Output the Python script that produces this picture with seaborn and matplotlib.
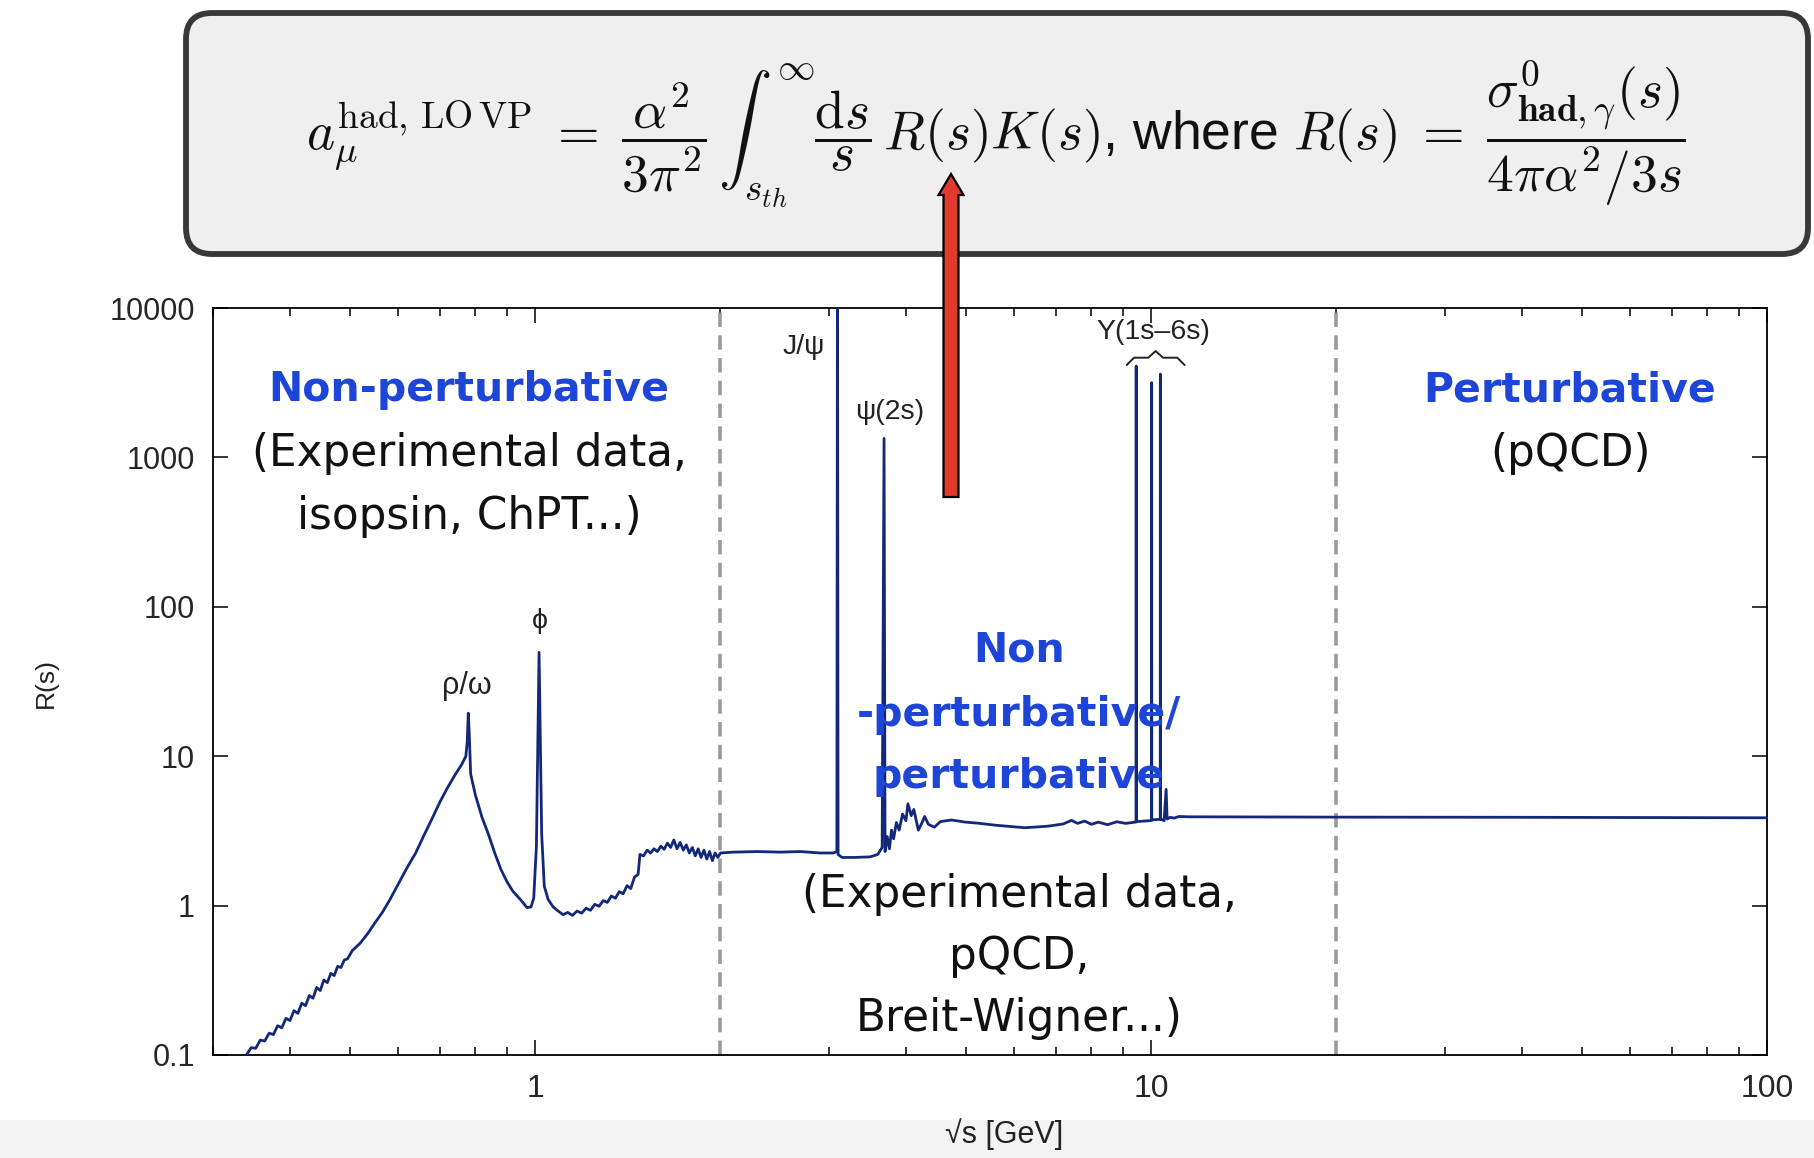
import numpy as np
import pandas as pd
import seaborn as sns
import matplotlib
matplotlib.use("Agg")
import matplotlib.pyplot as plt
from matplotlib.patches import FancyBboxPatch, FancyArrow, Rectangle
from matplotlib.transforms import IdentityTransform
from matplotlib.ticker import FixedLocator, FixedFormatter, LogLocator, NullLocator, NullFormatter

# ---------------------------------------------------------------- data
# centre-of-mass energy sqrt(s) in GeV and the hadronic R-ratio
sqrt_s = [
    0.340, 0.346, 0.352, 0.358, 0.364, 0.370, 0.376, 0.382, 0.388, 0.394,
    0.400, 0.406, 0.412, 0.418, 0.424, 0.430, 0.436, 0.442, 0.448, 0.454,
    0.460, 0.466, 0.472, 0.478, 0.484, 0.490, 0.496,
    0.505, 0.520, 0.535, 0.550, 0.565, 0.580, 0.600, 0.620, 0.640, 0.660,
    0.680, 0.700, 0.720, 0.740, 0.760, 0.772, 0.776, 0.779, 0.782, 0.786,
    0.800, 0.820, 0.840, 0.860, 0.880, 0.900, 0.920, 0.950, 0.970, 0.985,
    0.995, 1.005, 1.015, 1.025, 1.035, 1.050, 1.070, 1.090, 1.110, 1.130,
    1.150, 1.170, 1.190, 1.210, 1.230, 1.250, 1.270, 1.290, 1.310, 1.330,
    1.350, 1.370, 1.390, 1.410, 1.430, 1.450, 1.470, 1.480, 1.500, 1.520,
    1.540, 1.560, 1.580, 1.600, 1.620, 1.640, 1.660, 1.680, 1.700, 1.720,
    1.740, 1.760, 1.780, 1.800, 1.820, 1.840, 1.860, 1.880, 1.900, 1.920,
    1.940, 1.960, 1.980, 2.000, 2.100, 2.300, 2.500, 2.700, 2.900, 3.050,
    3.090, 3.097, 3.104, 3.150, 3.300, 3.500, 3.600, 3.660, 3.686, 3.700,
    3.730, 3.760, 3.790, 3.820, 3.860, 3.900, 3.950, 4.000, 4.030, 4.080,
    4.120, 4.190, 4.250, 4.290, 4.350, 4.450, 4.550, 4.740, 5.000, 5.240,
    5.600, 6.240, 6.800, 7.200, 7.430, 7.600, 7.800, 8.000, 8.210, 8.500,
    8.800, 9.100, 9.420, 9.455, 9.460, 9.465, 9.950, 10.018, 10.023, 10.028,
    10.350, 10.355, 10.360, 10.500, 10.580, 10.620, 10.750, 10.900, 11.100, 11.500,
    15.00, 20.00, 40.00, 70.00, 100.0,
]
R_ratio = [
    0.100, 0.112, 0.111, 0.126, 0.124, 0.140, 0.137, 0.157, 0.152, 0.176,
    0.170, 0.198, 0.190, 0.222, 0.214, 0.250, 0.240, 0.283, 0.270, 0.318,
    0.305, 0.352, 0.340, 0.392, 0.385, 0.432, 0.440,
    0.500, 0.560, 0.650, 0.770, 0.900, 1.080, 1.400, 1.800, 2.250, 2.950,
    3.800, 4.900, 6.100, 7.400, 8.800, 10.00, 12.50, 19.40, 14.00, 7.600,
    5.500, 3.900, 3.000, 2.250, 1.750, 1.450, 1.250, 1.080, 0.970, 0.980,
    1.120, 2.500, 49.60, 3.000, 1.350, 1.100, 0.980, 0.920, 0.870, 0.900,
    0.860, 0.920, 0.890, 0.960, 0.930, 1.020, 0.990, 1.080, 1.050, 1.160,
    1.120, 1.240, 1.200, 1.360, 1.300, 1.550, 1.620, 2.200, 2.150, 2.350,
    2.250, 2.400, 2.300, 2.500, 2.380, 2.620, 2.450, 2.750, 2.400, 2.650,
    2.350, 2.550, 2.250, 2.450, 2.150, 2.400, 2.100, 2.350, 2.050, 2.300,
    2.000, 2.250, 2.100, 2.250, 2.280, 2.300, 2.280, 2.300, 2.250, 2.250,
    2.300, 30000., 2.200, 2.100, 2.100, 2.120, 2.200, 2.450, 1340., 2.300,
    2.900, 2.400, 3.200, 2.800, 3.600, 3.200, 4.100, 3.700, 4.800, 4.000,
    4.400, 3.200, 3.600, 3.950, 3.500, 3.350, 3.650, 3.740, 3.620, 3.560,
    3.450, 3.320, 3.400, 3.520, 3.720, 3.550, 3.680, 3.500, 3.620, 3.480,
    3.640, 3.550, 3.620, 3.620, 4090., 3.650, 3.700, 3.720, 3162., 3.750,
    3.780, 3614., 3.800, 3.700, 6.000, 3.800, 3.900, 3.850, 3.950, 3.930,
    3.920, 3.910, 3.900, 3.880, 3.870,
]

# resonance labels: (text, sqrt_s position, R position)
peak_names = ["\u03c1/\u03c9", "\u03d5", "J/\u03c8", "\u03c8(2s)", "\u03a5(1s\u20136s)"]
peak_x = [0.775, 1.019, 2.73, 3.77, 10.1]
peak_y = [29.6, 80.0, 5500.0, 2014.0, 6900.0]
upsilon_masses = [9.460, 10.023, 10.355]

# region boundaries in sqrt(s) [GeV]
boundaries = [2.0, 20.0]

x_ticks = [1, 10, 100]
x_tick_labels = ["1", "10", "100"]
y_ticks = [0.1, 1, 10, 100, 1000, 10000]
y_tick_labels = ["0.1", "1", "10", "100", "1000", "10000"]

# ---------------------------------------------------------------- style
sns.set_theme(style="ticks")
plt.rcParams["font.family"] = ["Liberation Sans", "DejaVu Sans"]
plt.rcParams["mathtext.fontset"] = "cm"

W, H = 1814, 1158
fig = plt.figure(figsize=(W / 100, H / 100), dpi=100)
fig.patch.set_facecolor("white")

curve_color = "#14287a"
region_blue = "#1d45d8"
narrow = ["Liberation Sans Narrow", "Liberation Sans", "DejaVu Sans"]
region_font = ["DejaVu Sans"]

# ---------------------------------------------------------------- main axes
ax = fig.add_axes([213 / W, 1 - 1055 / H, (1767 - 213) / W, (1055 - 308) / H])
df = pd.DataFrame({"sqrt_s": sqrt_s, "R": R_ratio})
sns.lineplot(data=df, x="sqrt_s", y="R", estimator=None, sort=False,
             color=curve_color, lw=2.0, ax=ax, zorder=5)
ax.set_xscale("log")
ax.set_yscale("log")
ax.set_xlim(0.3, 100)
ax.set_ylim(0.1, 10000)

for b in boundaries:
    ax.axvline(b, color="#9a9a9a", lw=2.6, dashes=(4.0, 2.3), zorder=2)

ax.xaxis.set_major_locator(FixedLocator(x_ticks))
ax.xaxis.set_major_formatter(FixedFormatter(x_tick_labels))
ax.xaxis.set_minor_locator(LogLocator(base=10, subs=np.arange(2, 10)))
ax.xaxis.set_minor_formatter(NullFormatter())
ax.yaxis.set_major_locator(FixedLocator(y_ticks))
ax.yaxis.set_major_formatter(FixedFormatter(y_tick_labels))
ax.yaxis.set_minor_locator(NullLocator())

ax.tick_params(which="both", direction="in", top=True, right=True,
               color="black", width=1.1)
ax.tick_params(which="major", length=11)
ax.tick_params(which="minor", length=6)
ax.tick_params(axis="x", which="major", pad=14, labelsize=23)
ax.tick_params(axis="y", which="major", pad=13, labelsize=22)
for lab in ax.get_xticklabels():
    lab.set_family(narrow)
for s in ax.spines.values():
    s.set_color("black")
    s.set_linewidth(1.3)
ax.set_xlabel("")
ax.set_ylabel("")

# resonance annotations
for name, px, py in zip(peak_names, peak_x, peak_y):
    ax.text(px, py, name, ha="center", va="center",
            fontsize=22 if name.startswith("\u03c1") else 20.5,
            color="#222222", zorder=6)

# brace grouping the Upsilon states
bx0 = np.log10(min(upsilon_masses) * 0.965)
bx1 = np.log10(max(upsilon_masses) * 1.095)
bxc = 0.5 * (bx0 + bx1)
d = 0.012
yb, ym, yt = np.log10(4150), np.log10(4650), np.log10(5150)
brace_lx = [bx0, bx0 + d, bxc - d, bxc, bxc + d, bx1 - d, bx1]
brace_ly = [yb, ym, ym, yt, ym, ym, yb]
ax.plot(10 ** np.array(brace_lx), 10 ** np.array(brace_ly), color="#222222",
        lw=1.4, zorder=6, solid_joinstyle="round")

# region descriptions
def ftext(xp, yp, s, **kw):
    fig.text(xp / W, 1 - yp / H, s, ha="center", va="center", **kw)

bold_kw = dict(fontsize=29.5, fontweight="bold", color=region_blue, family=region_font)
plain_kw = dict(fontsize=31.5, color="#111111", family=region_font)

ftext(469, 390, "Non-perturbative", **bold_kw)
ftext(469, 453, "(Experimental data,", **plain_kw)
ftext(469, 517, "isopsin, ChPT...)", **plain_kw)

ftext(1570, 390, "Perturbative", **bold_kw)
ftext(1570, 453, "(pQCD)", **plain_kw)

ftext(1019, 651, "Non", **bold_kw)
ftext(1019, 715, "-perturbative/", **bold_kw)
ftext(1019, 777, "perturbative", **bold_kw)
ftext(1019, 894, "(Experimental data,", **plain_kw)
ftext(1019, 957, "pQCD,", **plain_kw)
ftext(1019, 1018, "Breit-Wigner...)", **plain_kw)

# axis titles
ftext(46, 683, "R(s)", fontsize=19, rotation=90, color="#222222")
ftext(1004, 1134, "\u221as [GeV]", fontsize=22, color="#222222", family=narrow)

# grey band along the bottom edge
fig.add_artist(Rectangle((0, 0), 1, (H - 1120) / H, transform=fig.transFigure,
                         facecolor="#f3f3f3", edgecolor="none", zorder=-5))

# formula box
box = FancyBboxPatch((186, H - 254), 1622, 241,
                     boxstyle="round,pad=0,rounding_size=26",
                     transform=IdentityTransform(), facecolor="#efefef",
                     edgecolor="#383838", lw=4.2, zorder=3)
fig.add_artist(box)
formula = (r"$a_{\mu}^{\mathrm{had,\,LO\,VP}}\;=\;\dfrac{\alpha^2}{3\pi^2}\,"
           r"\int_{s_{th}}^{\infty}\dfrac{\mathrm{d}s}{s}\,R(s)K(s)$, where "
           r"$R(s)\;=\;\dfrac{\sigma^{0}_{\mathbf{had},\gamma}(s)}{4\pi\alpha^2/3s}$")
fig.text(996 / W, 1 - 135 / H, formula, ha="center", va="center",
         fontsize=38.5, color="#111111", zorder=4)

# red arrow pointing at R(s)
arrow = FancyArrow(951 / W, 1 - 497 / H, 0, (497 - 174) / H,
                   width=15 / W, head_width=25 / W, head_length=21 / H,
                   length_includes_head=True, transform=fig.transFigure,
                   facecolor="#e23a2e", edgecolor="black", lw=1.6, zorder=7)
fig.add_artist(arrow)

fig.savefig("out.png", dpi=100, facecolor="white")
